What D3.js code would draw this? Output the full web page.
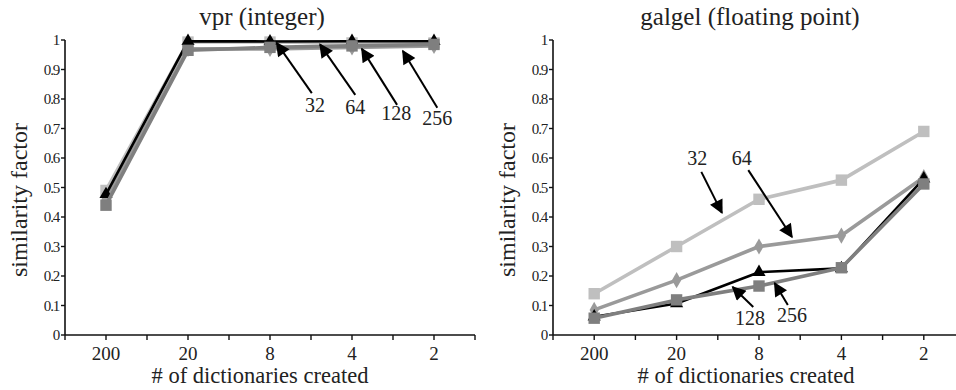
<!DOCTYPE html>
<html>
<head>
<meta charset="utf-8">
<script src="https://cdn.jsdelivr.net/npm/d3@7"></script>
<style>
  html, body { margin: 0; padding: 0; background: #fff; }
  svg { display: block; }
</style>
</head>
<body>
<svg id="chart" width="956" height="390"></svg>
<script>
// Number of dictionaries created (x categories)
const categories = ["200", "20", "8", "4", "2"];
const yTicks = [0, 0.1, 0.2, 0.3, 0.4, 0.5, 0.6, 0.7, 0.8, 0.9, 1];
const yTickLabels = ["0", "0.1", "0.2", "0.3", "0.4", "0.5", "0.6", "0.7", "0.8", "0.9", "1"];
const seriesNames = ["32", "64", "128", "256"];

// vpr (integer) similarity factors
const vpr32 = [0.49, 0.993, 0.993, 0.99, 0.99];
const vpr64 = [0.46, 0.97, 0.97, 0.975, 0.98];
const vpr128 = [0.477, 0.996, 0.995, 0.996, 0.996];
const vpr256 = [0.44, 0.965, 0.975, 0.98, 0.985];

// galgel (floating point) similarity factors
const galgel32 = [0.14, 0.30, 0.46, 0.525, 0.69];
const galgel64 = [0.085, 0.186, 0.30, 0.337, 0.535];
const galgel128 = [0.062, 0.107, 0.213, 0.226, 0.53];
const galgel256 = [0.057, 0.119, 0.166, 0.228, 0.512];

// Arrow annotations in data units: x as category index, y as similarity
const vprNotes = [
  { label: "32",  lx: 2.55, ly: 0.78,  tx: 2.51, ty: 0.82,  hx: 2.08, hy: 0.99 },
  { label: "64",  lx: 3.04, ly: 0.773, tx: 3.04, ty: 0.814, hx: 2.61, hy: 0.985 },
  { label: "128", lx: 3.54, ly: 0.753, tx: 3.55, ty: 0.78,  hx: 3.12, hy: 0.97 },
  { label: "256", lx: 4.04, ly: 0.736, tx: 4.04, ty: 0.77,  hx: 3.62, hy: 0.963 }
];
const galgelNotes = [
  { label: "32",  lx: 1.25, ly: 0.60,  tx: 1.30, ty: 0.553, hx: 1.55, hy: 0.414 },
  { label: "64",  lx: 1.79, ly: 0.60,  tx: 1.87, ty: 0.559, hx: 2.40, hy: 0.332 },
  { label: "128", lx: 1.89, ly: 0.058, tx: 1.93, ty: 0.095, hx: 1.68, hy: 0.163 },
  { label: "256", lx: 2.40, ly: 0.068, tx: 2.35, ty: 0.102, hx: 2.19, hy: 0.176 }
];

// Series styles: colour, marker, line width
const styles = {
  "32":  { color: "#bfbfbf", marker: "square",   width: 3.6, size: 130 },
  "64":  { color: "#9a9a9a", marker: "diamond",  width: 3.6, size: 75 },
  "128": { color: "#000000", marker: "triangle", width: 2.6, size: 75 },
  "256": { color: "#7f7f7f", marker: "square",   width: 3.6, size: 130 }
};
const symbolTypes = { square: d3.symbolSquare, diamond: d3.symbolDiamond, triangle: d3.symbolTriangle };
const FONT = "Liberation Serif";
const textColor = "#222";

const svg = d3.select("#chart");
svg.append("defs").append("marker")
  .attr("id", "head")
  .attr("viewBox", "0 0 10 10")
  .attr("refX", 9).attr("refY", 5)
  .attr("markerUnits", "userSpaceOnUse")
  .attr("markerWidth", 16).attr("markerHeight", 14)
  .attr("orient", "auto")
  .append("path").attr("d", "M0,0 L10,5 L0,10 Z").attr("fill", "#000");

// serif text helper
function label(sel, size) {
  return sel.attr("font-family", FONT).attr("font-size", size).attr("fill", textColor);
}

function panel(opts) {
  const g = svg.append("g");
  const x = d3.scaleBand().domain(categories).range([opts.x0, opts.x1]);
  const y = d3.scaleLinear().domain([0, 1]).range([335, 40]);
  const xc = c => x(c) + x.bandwidth() / 2;
  const xi = d3.scaleLinear().domain([0, 1]).range([xc(categories[0]), xc(categories[1])]);

  // x axis: ticks at band edges and band centres
  g.append("line").attr("x1", opts.x0).attr("x2", opts.x1).attr("y1", y(0)).attr("y2", y(0))
    .attr("stroke", "#111").attr("stroke-width", 1.6);
  const edges = d3.range(categories.length + 1).map(i => opts.x0 + i * x.step());
  const centres = categories.map(xc);
  g.selectAll(".xt").data(edges.concat(centres)).join("line")
    .attr("x1", d => d).attr("x2", d => d).attr("y1", y(0)).attr("y2", y(0) + 5)
    .attr("stroke", "#111").attr("stroke-width", 1.4);
  label(g.selectAll(".xl").data(categories).join("text"), 19)
    .attr("x", d => xc(d)).attr("y", 360)
    .attr("text-anchor", "middle")
    .text(d => d);

  // y axis
  g.append("line").attr("x1", opts.x0).attr("x2", opts.x0).attr("y1", y(1)).attr("y2", y(0))
    .attr("stroke", "#111").attr("stroke-width", 1.6);
  g.selectAll(".yt").data(yTicks).join("line")
    .attr("x1", opts.x0 - 4).attr("x2", opts.x0).attr("y1", d => y(d)).attr("y2", d => y(d))
    .attr("stroke", "#111").attr("stroke-width", 1.4);
  label(g.selectAll(".yl").data(yTicks).join("text"), 15)
    .attr("x", opts.x0 - 6).attr("y", d => y(d)).attr("dy", "0.35em")
    .attr("text-anchor", "end").attr("letter-spacing", -1.2)
    .text((d, i) => yTickLabels[i]);

  // titles
  label(g.append("text"), 25).attr("x", opts.titleX).attr("y", 25).attr("text-anchor", "middle")
    .text(opts.title);
  label(g.append("text"), 24).attr("transform", `translate(${opts.x0 - 38},200) rotate(-90)`)
    .attr("text-anchor", "middle").text("similarity factor");
  label(g.append("text"), 22.5).attr("x", opts.xTitleX).attr("y", 383).attr("text-anchor", "middle")
    .text("# of dictionaries created");

  // series lines and markers
  const line = d3.line().x((d, i) => xc(categories[i])).y(d => y(d));
  opts.series.forEach((vals, k) => {
    const st = styles[seriesNames[k]];
    g.append("path").datum(vals).attr("d", line).attr("fill", "none")
      .attr("stroke", st.color).attr("stroke-width", st.width).attr("stroke-linejoin", "round");
    g.selectAll(null).data(vals).join("path")
      .attr("transform", (d, i) => `translate(${xc(categories[i])},${y(d)})`)
      .attr("d", d3.symbol().type(symbolTypes[st.marker]).size(st.size))
      .attr("fill", st.color);
  });

  // arrow annotations
  opts.notes.forEach(n => {
    g.append("line").attr("x1", xi(n.tx)).attr("y1", y(n.ty)).attr("x2", xi(n.hx)).attr("y2", y(n.hy))
      .attr("stroke", "#000").attr("stroke-width", 2).attr("marker-end", "url(#head)");
    label(g.append("text"), 20).attr("x", xi(n.lx)).attr("y", y(n.ly)).attr("dy", "0.35em")
      .attr("text-anchor", "middle").text(n.label);
  });
}

panel({ x0: 65, x1: 475, title: "vpr (integer)", titleX: 262, xTitleX: 260,
        series: [vpr32, vpr64, vpr128, vpr256], notes: vprNotes });
panel({ x0: 553, x1: 965, title: "galgel (floating point)", titleX: 750, xTitleX: 746,
        series: [galgel32, galgel64, galgel128, galgel256], notes: galgelNotes });
</script>
</body>
</html>
